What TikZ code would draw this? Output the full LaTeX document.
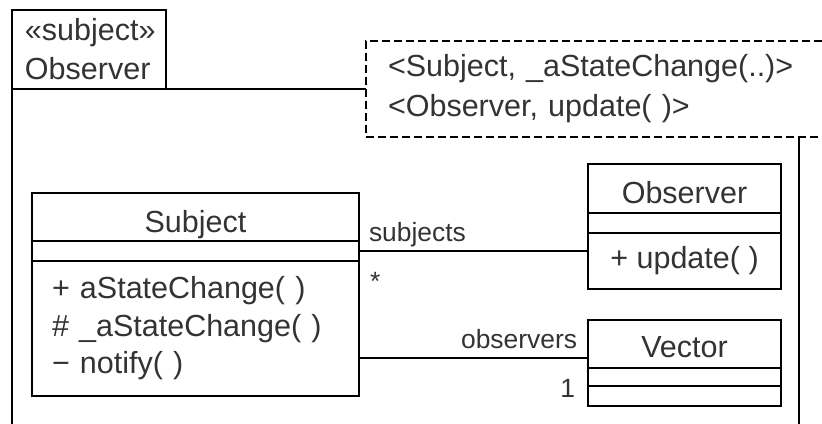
\documentclass[tikz,border=0pt]{standalone}
\usepackage{fontspec}
\setmainfont{Liberation Sans}
\usetikzlibrary{positioning}

\tikzstyle{clsname} = [draw, rectangle, outer sep=0pt, inner sep=0pt, minimum height=24pt, text height=15pt, text depth=0pt, font=\fontsize{15.25}{18.75}\selectfont]
\tikzstyle{clsattr} = [draw, rectangle, outer sep=0pt, inner sep=0pt, minimum height=10pt]
\tikzstyle{clsops} = [draw, rectangle, outer sep=0pt, inner xsep=10pt, inner ysep=0pt, font=\fontsize{15.25}{18.75}\selectfont]
\tikzstyle{pkgtab} = [draw, rectangle, outer sep=0pt, inner xsep=6.5pt, inner ysep=0pt, align=left, font=\fontsize{15.25}{19.5}\selectfont]
\tikzstyle{tmplbox} = [draw, dash pattern=on 4pt off 2pt, line width=0.8pt, rectangle, outer sep=0pt, inner xsep=11pt, inner ysep=0pt, align=left, font=\fontsize{15.25}{20}\selectfont]
\tikzstyle{role} = [inner sep=0pt, font=\fontsize{13.2}{15}\selectfont]

\begin{document}
\begin{tikzpicture}[x=0.5pt, y=-0.5pt, line width=1pt, text=black!80]
    \useasboundingbox (0,0) rectangle (822,423);
    \clip (0,0) rectangle (822,423);

    % the package with its template parameters
    \node [pkgtab, anchor=north west, minimum height=39.5pt, text width=64pt] (tab) at (12,10) {«subject»\\Observer};
    \node [tmplbox, anchor=north west, minimum height=48pt, text width=215pt] (tmpl) at (366,41)
        {<Subject, \_aStateChange(..)>\\<Observer, update( )>};
    \draw (tab.south west) -- (tab.south west -| tmpl.west);
    \draw (tab.south west) -- (tab.south west |- 0,440);
    \draw (799,0 |- tmpl.south) -- (799,440);

    % classes
    \node [clsname, anchor=north west, minimum width=163.5pt] (subj) at (32,193) {Subject};
    \node [clsattr, below=0pt of subj, minimum width=163.5pt] (subjattr) {};
    \node [clsops, below=0pt of subjattr, text width=143.5pt, minimum height=67.5pt, align=left] (subjops)
        {+ aStateChange( )\\\# \_aStateChange( )\\− notify( )};

    \node [clsname, anchor=north west, minimum width=96.5pt, minimum height=24.5pt] (obsname) at (588,164) {Observer};
    \node [clsattr, below=0pt of obsname, minimum width=96.5pt] (obsattr) {};
    \node [clsops, below=0pt of obsattr, minimum width=96.5pt, minimum height=28pt, align=center] (obsops) {+ update( )};

    \node [clsname, anchor=north west, minimum width=96.5pt, text height=13pt] (vecname) at (588,320) {Vector};
    \node [clsattr, below=0pt of vecname, minimum width=96.5pt, minimum height=9pt] (vecattr) {};
    \node [clsattr, below=0pt of vecattr, minimum width=96.5pt] (vecops) {};

    % associations
    \draw (subjattr.east) -- (subjattr.east -| obsname.west)
        node [role, pos=0, anchor=base west, xshift=4.5pt, yshift=5pt] {subjects}
        node [role, pos=0, anchor=base west, xshift=5pt, yshift=-19.5pt] {*};
    \coordinate (obsend) at ([yshift=5pt]vecname.south west);
    \draw (obsend) -- (obsend -| subjops.east)
        node [role, pos=0, anchor=base east, xshift=-5pt, yshift=5pt] {observers}
        node [role, pos=0, anchor=base east, xshift=-6pt, yshift=-19.5pt] {1};

\end{tikzpicture}
\end{document}
